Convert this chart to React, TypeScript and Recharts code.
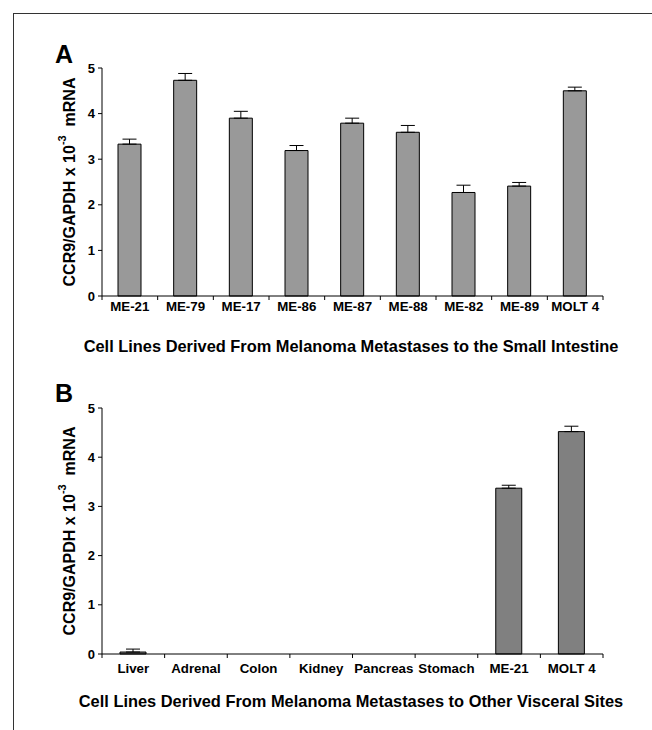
import React from "react"
import { BarChart, Bar, XAxis, YAxis, ErrorBar } from "recharts"

// Panel A: cell lines from small-intestine metastases
const intestineLines = ["ME-21", "ME-79", "ME-17", "ME-86", "ME-87", "ME-88", "ME-82", "ME-89", "MOLT 4"]
const intestineMeans = [3.33, 4.73, 3.9, 3.19, 3.79, 3.59, 2.27, 2.41, 4.5]
const intestineErrors = [0.11, 0.15, 0.15, 0.11, 0.11, 0.15, 0.16, 0.08, 0.08]

// Panel B: cell lines from other visceral sites
const visceralLines = ["Liver", "Adrenal", "Colon", "Kidney", "Pancreas", "Stomach", "ME-21", "MOLT 4"]
const visceralMeans = [0.04, 0, 0, 0, 0, 0, 3.37, 4.52]
const visceralErrors = [0.06, 0, 0, 0, 0, 0, 0.06, 0.11]

const yTicks = [0, 1, 2, 3, 4, 5]

const FONT = "'Liberation Sans', Arial, sans-serif"
const W = 652
const PLOT_LEFT = 102
const PLOT_RIGHT = 603
const PLOT_W = PLOT_RIGHT - PLOT_LEFT
const X_AXIS_H = 30

const toRows = (names: string[], means: number[], errs: number[]) =>
  names.map((name, i) => ({ name, value: means[i], err: [0, errs[i]] }))

const intestineData = toRows(intestineLines, intestineMeans, intestineErrors)
const visceralData = toRows(visceralLines, visceralMeans, visceralErrors)

// ticks sit on the category boundaries, labels in the middle
function makeTick(n: number, axisY: number, labelDy: number) {
  const band = PLOT_W / n
  return (props: any) => {
    const { x, payload, index } = props
    const left = x - band / 2
    return (
      <g>
        <line x1={left} y1={axisY} x2={left} y2={axisY + 4} stroke="#000" />
        {index === n - 1 && <line x1={left + band} y1={axisY} x2={left + band} y2={axisY + 4} stroke="#000" />}
        <text x={x} y={axisY + labelDy} textAnchor="middle" dominantBaseline="central" fontFamily={FONT} fontWeight="bold" fontSize={13.3} fill="#000">
          {payload.value}
        </text>
      </g>
    )
  }
}

const YLabel = (props: any) => {
  const { viewBox } = props
  const cx = viewBox.x + 17
  const cy = viewBox.y + viewBox.height / 2
  return (
    <text
      x={cx}
      y={cy}
      transform={`rotate(-90, ${cx}, ${cy})`}
      textAnchor="middle"
      dominantBaseline="central"
      fontFamily={FONT}
      fontWeight="bold"
      fontSize={16}
      fill="#000"
    >
      <tspan>CCR9/GAPDH x 10</tspan>
      <tspan dy={-7} fontSize={11}>-3</tspan>
      <tspan dy={7}>{"\u00a0\u00a0mRNA"}</tspan>
    </text>
  )
}

function Panel({ data, n, top, height, marginTop, plotBottom, labelDy, fill, barSize }: any) {
  return (
    <div style={{ position: "absolute", left: 0, top }}>
      <BarChart
        width={W}
        height={height}
        data={data}
        margin={{ top: marginTop, right: W - PLOT_RIGHT, left: 52, bottom: height - plotBottom - X_AXIS_H }}
      >
        <XAxis
          dataKey="name"
          height={X_AXIS_H}
          axisLine={{ stroke: "#000" }}
          tickLine={false}
          interval={0}
          tick={makeTick(n, plotBottom, labelDy)}
        />
        <YAxis
          width={50}
          domain={[0, 5]}
          ticks={yTicks}
          interval={0}
          axisLine={{ stroke: "#000" }}
          tickLine={{ stroke: "#000" }}
          tickSize={4}
          tickMargin={3}
          tick={{ fill: "#000", fontFamily: FONT, fontWeight: "bold", fontSize: 13 }}
          label={{ content: <YLabel /> }}
        />
        <Bar dataKey="value" fill={fill} stroke="#000" strokeWidth={1} barSize={barSize} isAnimationActive={false}>
          <ErrorBar dataKey="err" width={7} stroke="#000" strokeWidth={1} direction="y" />
        </Bar>
      </BarChart>
    </div>
  )
}

const titleStyle: React.CSSProperties = {
  position: "absolute",
  left: 351,
  transform: "translateX(-50%)",
  whiteSpace: "nowrap",
  fontFamily: FONT,
  fontWeight: "bold",
  fontSize: 16.4,
  color: "#000",
}

const letterStyle: React.CSSProperties = {
  position: "absolute",
  fontFamily: FONT,
  fontWeight: "bold",
  fontSize: 25,
  lineHeight: "25px",
  color: "#000",
}

export default function App() {
  return (
    <div style={{ position: "absolute", left: 0, top: 0, width: W, height: 730, background: "#fff", overflow: "hidden" }}>
      <div
        style={{
          position: "absolute",
          left: 13,
          top: 13,
          width: 700,
          height: 800,
          borderTop: "1.5px solid #333",
          borderLeft: "1.5px solid #333",
        }}
      />
      <div style={{ ...letterStyle, left: 55, top: 42 }}>A</div>
      <div style={{ ...letterStyle, left: 55, top: 381 }}>B</div>

      {/* plot A spans y 68..296 */}
      <Panel data={intestineData} n={intestineLines.length} top={0} height={330} marginTop={68} plotBottom={296} labelDy={10} fill="#999999" barSize={23} />
      {/* plot B spans y 408..654 */}
      <Panel data={visceralData} n={visceralLines.length} top={360} height={330} marginTop={48} plotBottom={294} labelDy={14} fill="#808080" barSize={26} />

      <div style={{ ...titleStyle, top: 337 }}>Cell Lines Derived From Melanoma Metastases to the Small Intestine</div>
      <div style={{ ...titleStyle, top: 692 }}>Cell Lines Derived From Melanoma Metastases to Other Visceral Sites</div>
    </div>
  )
}
